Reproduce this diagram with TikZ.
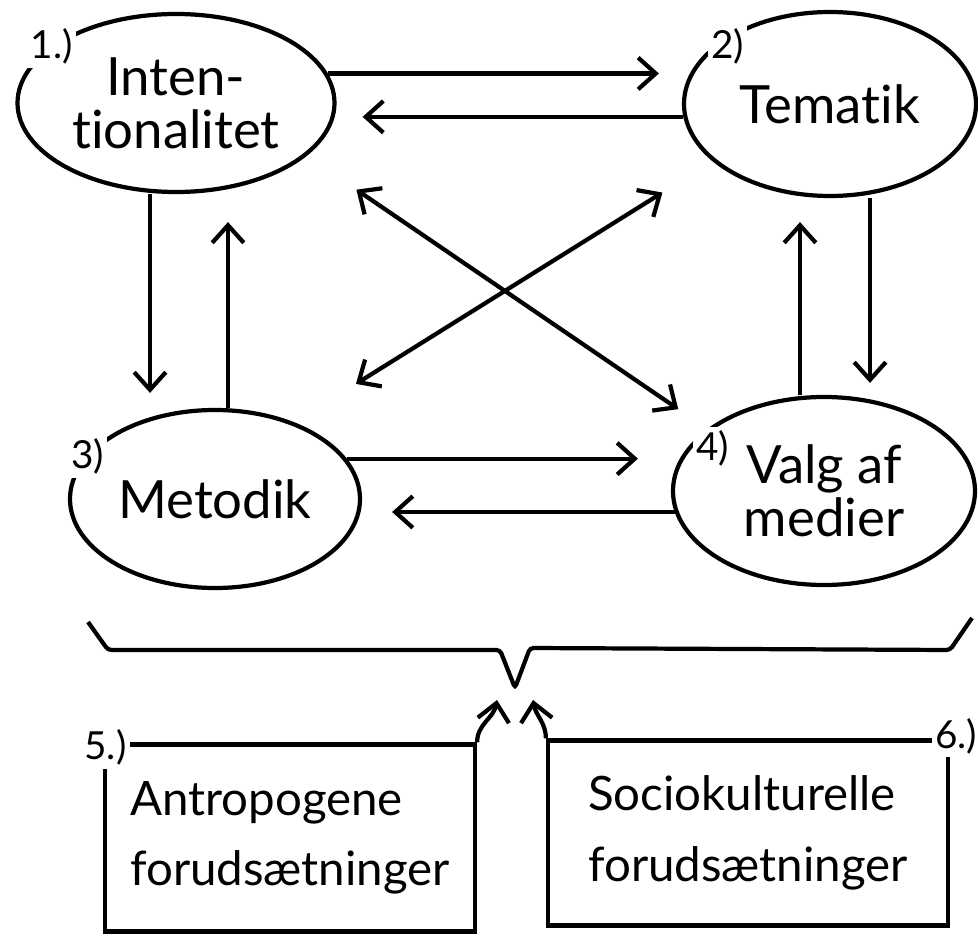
\documentclass[tikz,border=0pt]{standalone}
\usepackage{fontspec}
\setmainfont{Lato}[Ligatures={NoCommon,NoContextual}]
\usepackage{tikz}
\usetikzlibrary{shapes.geometric, arrows.meta, positioning, calc}
\tikzstyle{phase} = [ellipse, line width=2.4pt, draw=black, align=center, inner sep=0pt, font=\fontsize{30}{30}\selectfont]
\tikzstyle{premise} = [rectangle, line width=2.4pt, draw=black, align=left, font=\fontsize{27}{40}\selectfont]
\tikzstyle{numlabel} = [fill=white, inner sep=2pt, font=\fontsize{22}{22}\selectfont]
\tikzstyle{arrow} = [line width=2.4pt,->,>={Straight Barb[length=10pt,width=18pt]}]
\tikzstyle{dblarrow} = [line width=2.4pt,<->,>={Straight Barb[length=10pt,width=18pt]}]
\tikzstyle{brace} = [line width=2.4pt, rounded corners=2pt]

\begin{document}
\begin{tikzpicture}
\useasboundingbox (0,0) rectangle (19.56,18.72);
% the four phases
\node (intent) [phase, minimum width=6.34cm, minimum height=3.56cm] at (3.52,16.66) {Inten-\\tionalitet};
\node (tema) [phase, minimum width=5.84cm, minimum height=3.68cm] at (16.6,16.64) {Tematik};
\node (method) [phase, minimum width=5.8cm, minimum height=3.56cm] at (4.3,8.74) {Metodik};
\node (valg) [phase, minimum width=6.04cm, minimum height=3.76cm] at (16.48,8.9) {Valg af\\medier};
\node (n1) [numlabel, xshift=-0.9cm, yshift=-0.45cm] at (intent.135) {1.)};
\node (n2) [numlabel, xshift=-0.46cm, yshift=-0.44cm] at (tema.135) {2)};
\node (n3) [numlabel, xshift=-1.0cm, yshift=-0.7cm] at (method.135) {3)};
\node (n4) [numlabel, xshift=-0.6cm, yshift=-0.78cm] at (valg.135) {4)};

% the two premises
\node (anthro) [premise, minimum width=7.4cm, minimum height=3.74cm] at (5.8,1.96) {Antropogene\\forudsætninger};
\node (socio) [premise, minimum width=8.0cm, minimum height=3.7cm] at (14.96,2.06) {Sociokulturelle\\forudsætninger};
\node (n5) [numlabel, xshift=0.05cm, yshift=-0.1cm] at (anthro.north west) {5.)};
\node (n6) [numlabel, xshift=0.12cm, yshift=0.05cm] at (socio.north east) {6.)};

% arrows between phases
\draw [arrow, shorten >=0.46cm] (intent.11) -- (intent.11 -| tema.west);
\draw [arrow, shorten >=0.52cm] (tema.185) -- (tema.185 -| intent.east);
\draw [arrow, shorten >=0.66cm] (method.17) -- (method.17 -| valg.west);
\draw [arrow, shorten >=0.6cm] (valg.188) -- (valg.188 -| method.east);
\draw [arrow, shorten >=0.3cm] ([xshift=-0.52cm]intent.south) -- ([xshift=-0.52cm]intent.south |- method.north);
\draw [arrow, shorten >=0.56cm] ([xshift=0.26cm]method.north) -- ([xshift=0.26cm]method.north |- intent.south);
\draw [arrow, shorten >=0.24cm] ([xshift=0.8cm]tema.south) -- ([xshift=0.8cm]tema.south |- valg.north);
\draw [arrow, shorten >=0.48cm] ([xshift=-0.48cm]valg.north) -- ([xshift=-0.48cm]valg.north |- tema.south);
\draw [dblarrow, shorten <=1.2cm, shorten >=0.7cm] (intent.-22) -- (valg.152);
\draw [dblarrow, shorten <=1.18cm, shorten >=1.45cm] (tema.206) -- (method.44);

% brace over the premises
\coordinate (tip) at (10.3,4.96);
\coordinate (tipL) at (9.94,4.72);
\coordinate (tipR) at (10.66,4.72);
\draw [brace] (1.76,6.28) -- (2.16,5.72) -- (10.0,5.72) -- (tip) -- (10.6,5.76) -- (19.0,5.72) -- (19.44,6.36);
\draw [arrow] (anthro.north east) to[out=90, in=-100] (tipL);
\draw [arrow] (socio.north west) to[out=90, in=-80] (tipR);
\end{tikzpicture}
\end{document}
